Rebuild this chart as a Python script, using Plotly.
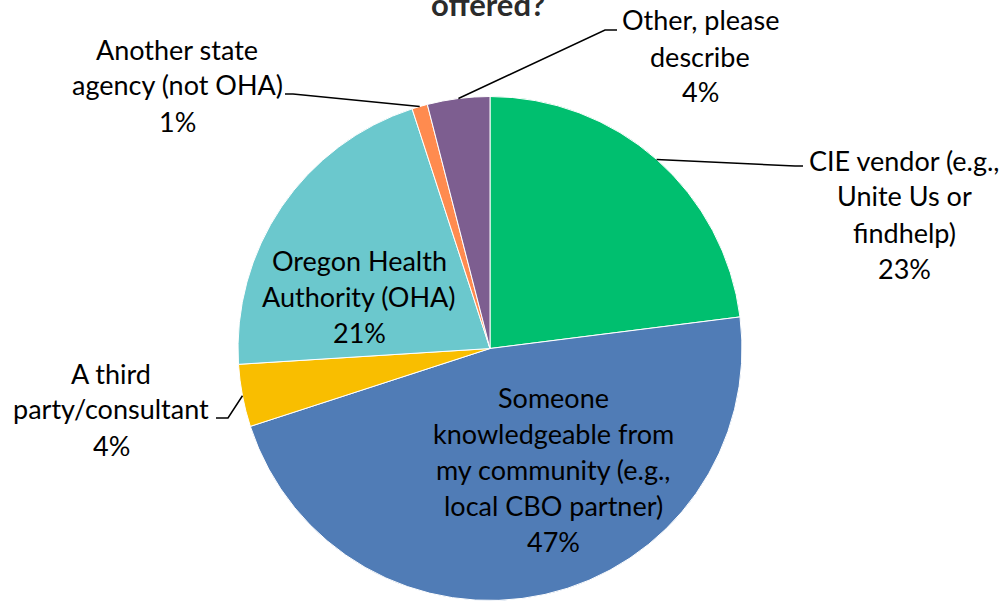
import math
import textwrap
import plotly.graph_objects as go

# survey answers, clockwise from 12 o'clock
labels = [
    "CIE vendor (e.g., Unite Us or findhelp)",
    "Someone knowledgeable from my community (e.g., local CBO partner)",
    "A third party/consultant",
    "Oregon Health Authority (OHA)",
    "Another state agency (not OHA)",
    "Other, please describe",
]
shares = [23, 47, 4, 21, 1, 4]
colors = ["#00BF6F", "#507CB6", "#F9BE00", "#6BC8CD", "#FF8B4F", "#7D5E90"]
title_tail = "offered?"

W, H = 1006, 601
cx, cy, R = 490, 348.5, 252  # pie centre / radius in px
LINE = 36  # px between label lines

# label placement: centre of text block (px), wrap width, leader knee + end (px) or None
placement = [
    (904, 214, 17, (795, 166), (803, 166)),
    (553, 469, 19, None, None),
    (111, 409, 16, (228, 418), (216, 418)),
    (359, 296, 15, None, None),
    (177, 85, 16, (293, 94), (285, 94)),
    (700, 56, 13, (605, 30), (617, 30)),
]


def px(x, y):
    return x / W, 1 - y / H


fig = go.Figure(go.Pie(
    labels=labels, values=shares, sort=False, direction="clockwise", rotation=0,
    marker=dict(colors=colors, line=dict(color="white", width=1)),
    textinfo="none", hoverinfo="label+percent", showlegend=False,
    domain=dict(x=[(cx - R) / W, (cx + R) / W], y=[(H - cy - R) / H, (H - cy + R) / H]),
))

total = sum(shares)
cum = 0
for lab, val, (lx, ly, wrap, knee, end) in zip(labels, shares, placement):
    mid = (cum + val / 2) / total * 2 * math.pi
    cum += val
    lines = textwrap.wrap(lab, wrap) + [f"{round(val / total * 100)}%"]
    for i, line in enumerate(lines):
        ax, ay = px(lx, ly + (i - (len(lines) - 1) / 2) * LINE)
        fig.add_annotation(x=ax, y=ay, xref="paper", yref="paper", text=line, showarrow=False,
                           xanchor="center", yanchor="middle", font=dict(size=27, color="#000000"))
    if knee is not None:
        sx, sy = cx + R * math.sin(mid), cy - R * math.cos(mid)
        p = [px(sx, sy), px(*knee), px(*end)]
        path = "M {} {} L {} {} L {} {}".format(*[c for pt in p for c in pt])
        fig.add_shape(type="path", path=path, xref="paper", yref="paper",
                      line=dict(color="#000000", width=1.5))

tx, ty = px(488, 4)
fig.add_annotation(x=tx, y=ty, xref="paper", yref="paper", text=f"<b>{title_tail}</b>",
                   showarrow=False, xanchor="center", yanchor="middle",
                   font=dict(size=31, color="#2b2b2b"))

fig.update_layout(
    width=W, height=H,
    margin=dict(l=0, r=0, t=0, b=0),
    paper_bgcolor="white", plot_bgcolor="white",
    font=dict(family="Lato", size=27, color="#000000"),
)

# drop the browser's default 8px body margin so the figure sits flush
fig.write_html("out.html", config={"displayModeBar": False},
               post_script="document.body.style.margin='0';")
